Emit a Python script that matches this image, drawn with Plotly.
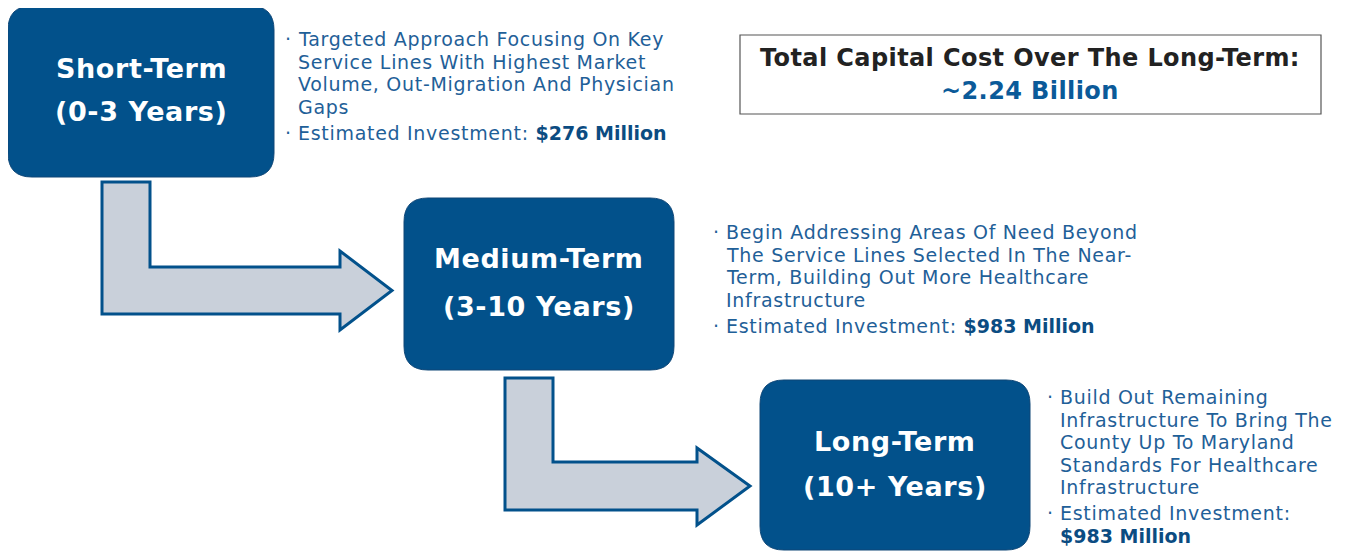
import plotly.graph_objects as go

# phase boxes
phase_names = ["Short-Term", "Medium-Term", "Long-Term"]
phase_spans = ["(0-3 Years)", "(3-10 Years)", "(10+ Years)"]
investments = ["$276 Million", "$983 Million", "$983 Million"]

# bullet text, one entry per printed line
desc_lines = [
    ["Targeted Approach Focusing On Key",
     "Service Lines With Highest Market",
     "Volume, Out-Migration And Physician",
     "Gaps"],
    ["Begin Addressing Areas Of Need Beyond",
     "The Service Lines Selected In The Near-",
     "Term, Building Out More Healthcare",
     "Infrastructure"],
    ["Build Out Remaining",
     "Infrastructure To Bring The",
     "County Up To Maryland",
     "Standards For Healthcare",
     "Infrastructure"],
]
invest_split = [False, False, True]  # long-term puts the amount on its own line

total_label = "Total Capital Cost Over The Long-Term:"
total_value = "~2.24 Billion"

# colours / fonts
BOX = "#02518B"
ARROW_FILL = "#C9D0DA"
TXT = "#1F6098"
BOLD_TXT = "#0B4C82"
FONT = "DejaVu Sans"
BODY = 19


def spaced(t, px):
    # the reference face is wider than anything installed, so open up the tracking a bit
    return f"<span style='letter-spacing:{px}px'>{t}</span>"


# layout (pixel space, y downwards)
boxes = [(8, 6, 274, 177), (404, 198, 674, 370), (760, 380, 1030, 550)]
title_y = [(68, 111), (258, 306), (441, 486)]
text_x = [296, 724, 1058]
text_y0 = [39, 232, 397]
line_h = 22.6
invest_gap = 26

arrows = [
    # stem left, stem right, stem top, bar top, bar bottom, head base, head top, head bottom, tip
    (102, 150, 182, 267, 314, 340, 251, 330, 392),
    (505, 553, 378, 462, 510, 697, 448, 525, 750),
]


def rounded(x0, y0, x1, y1, r):
    return (f"M {x0+r},{y0} L {x1-r},{y0} Q {x1},{y0} {x1},{y0+r} "
            f"L {x1},{y1-r} Q {x1},{y1} {x1-r},{y1} L {x0+r},{y1} "
            f"Q {x0},{y1} {x0},{y1-r} L {x0},{y0+r} Q {x0},{y0} {x0+r},{y0} Z")


def bent_arrow(sl, sr, st, bt, bb, hb, ht, hbot, tip):
    mid = (bt + bb) / 2
    return (f"M {sl},{st} L {sr},{st} L {sr},{bt} L {hb},{bt} L {hb},{ht} "
            f"L {tip},{mid} L {hb},{hbot} L {hb},{bb} L {sl},{bb} Z")


def body(x, y, text, anchor="left"):
    return dict(x=x, y=y, text=text, showarrow=False, xanchor=anchor, yanchor="middle",
                font=dict(family=FONT, size=BODY, color=TXT))


fig = go.Figure()
shapes = []
ann = []

for a in arrows:
    shapes.append(dict(type="path", path=bent_arrow(*a), fillcolor=ARROW_FILL,
                       line=dict(color=BOX, width=3), layer="below"))

for i, (x0, y0, x1, y1) in enumerate(boxes):
    shapes.append(dict(type="path", path=rounded(x0, y0, x1, y1, 24),
                       fillcolor=BOX, line=dict(color="#0E4677", width=1)))
    cx = (x0 + x1) / 2
    for txt, yy in zip([phase_names[i], phase_spans[i]], title_y[i]):
        ann.append(dict(x=cx, y=yy, text=f"<b>{spaced(txt, 0.6)}</b>", showarrow=False,
                        xanchor="center", yanchor="middle",
                        font=dict(family=FONT, size=27, color="white")))

    # bullet text
    y = text_y0[i]
    for j, ln in enumerate(desc_lines[i]):
        ann.append(body(text_x[i], y, spaced(ln, 0.7)))
        if j == 0:
            ann.append(body(text_x[i] - 3, y, "·", "right"))
        y += line_h
    y += invest_gap - line_h
    ann.append(body(text_x[i] - 3, y, "·", "right"))
    amount = f"<b><span style='color:{BOLD_TXT}'>{investments[i]}</span></b>"
    if invest_split[i]:
        ann.append(body(text_x[i], y, spaced("Estimated Investment:", 0.7)))
        ann.append(body(text_x[i], y + line_h, amount))
    else:
        ann.append(body(text_x[i], y, spaced("Estimated Investment: ", 0.7) + amount))

# total cost box
shapes.append(dict(type="rect", x0=740, y0=35, x1=1321, y1=114,
                   fillcolor="white", line=dict(color="#555555", width=1.2)))
ann.append(dict(x=1030, y=58, text=f"<b>{spaced(total_label, 0.4)}</b>", showarrow=False,
                xanchor="center", yanchor="middle",
                font=dict(family=FONT, size=24, color="#222222")))
ann.append(dict(x=1030, y=91, text=f"<b>{spaced(total_value, 0.4)}</b>", showarrow=False,
                xanchor="center", yanchor="middle",
                font=dict(family=FONT, size=24, color="#0B5A99")))

# page body has an 8px margin, so start the axes at 8 to keep page pixels == data units
fig.update_layout(
    width=1348, height=552,
    margin=dict(l=0, r=0, t=0, b=0),
    paper_bgcolor="white", plot_bgcolor="white",
    shapes=shapes, annotations=ann, showlegend=False,
    xaxis=dict(range=[8, 1356], visible=False, fixedrange=True),
    yaxis=dict(range=[560, 8], visible=False, fixedrange=True),
)

fig.write_html("out.html")
